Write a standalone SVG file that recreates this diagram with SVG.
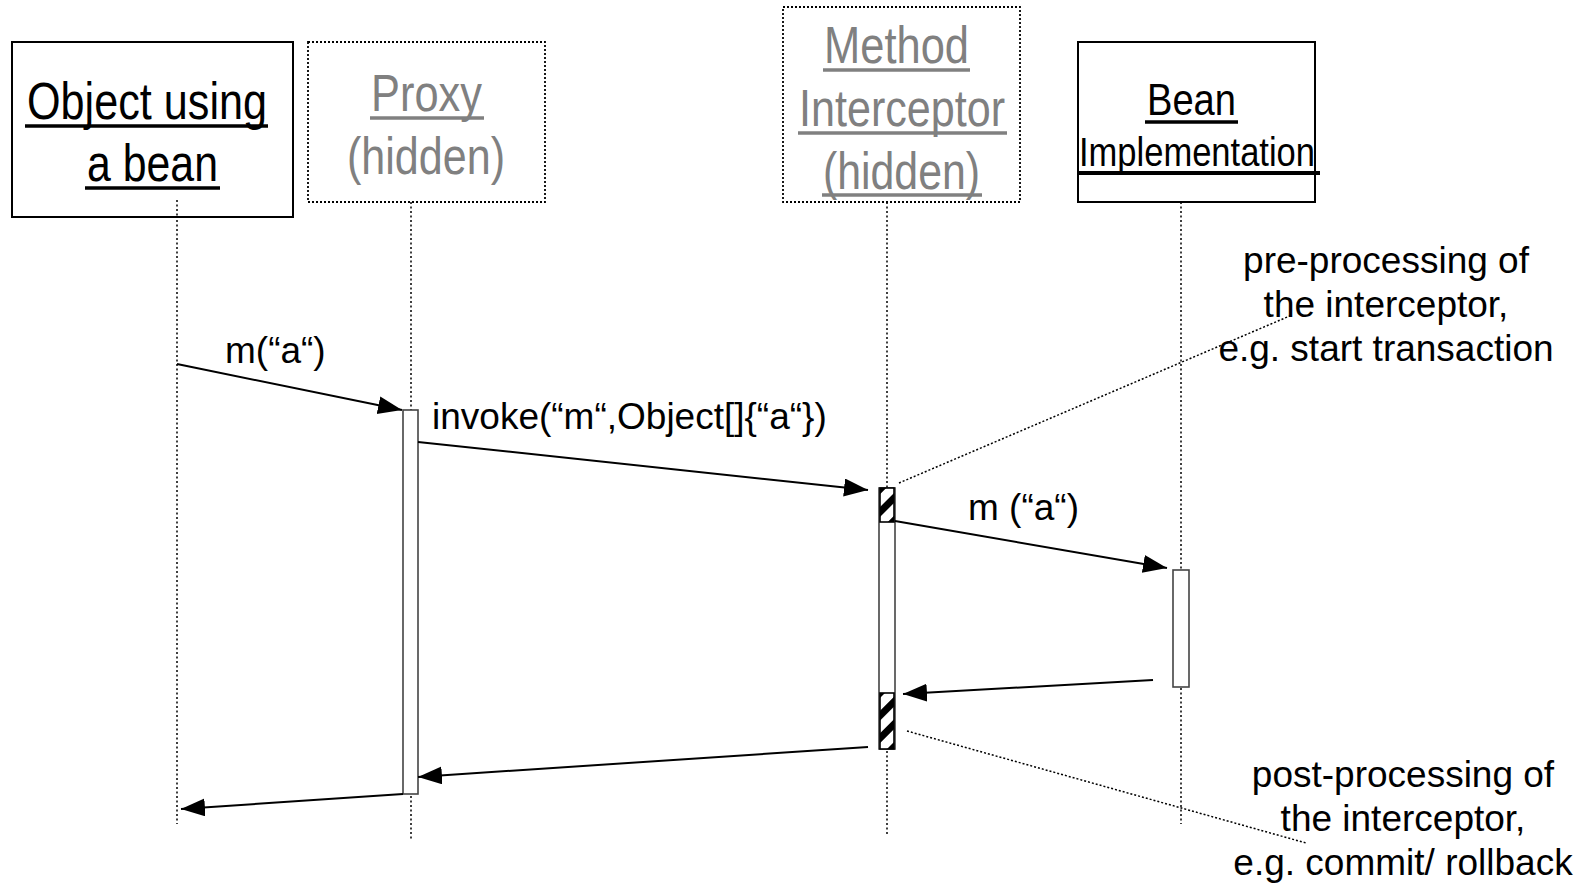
<svg xmlns="http://www.w3.org/2000/svg" width="1586" height="885" viewBox="0 0 1586 885">
  <defs>
    <style>
      .head { font-family: "Liberation Sans Narrow", "Liberation Sans", Arial, sans-serif; font-size: 52px; fill: #000; }
      .grey { fill: #808080; }
      .ul { stroke: #000; stroke-width: 3.5; }
      .ulg { stroke: #808080; stroke-width: 3.5; }
      .lbl { font-family: "Liberation Sans", Arial, sans-serif; font-size: 37px; fill: #000; }
      .box { fill: #fff; stroke: #000; stroke-width: 2; }
      .dotbox { fill: #fff; stroke: #000; stroke-width: 1.8; stroke-dasharray: 2 2; }
      .life { fill: none; stroke: #000; stroke-width: 1.5; stroke-dasharray: 2 2.5; }
      .act { fill: #fff; stroke: #444; stroke-width: 1.6; }
      .hatch { fill: url(#diag); stroke: #000; stroke-width: 1.6; }
      .msg { fill: none; stroke: #000; stroke-width: 2; marker-end: url(#arrow); }
      .note { fill: none; stroke: #000; stroke-width: 1.5; stroke-dasharray: 2 2; }
    </style>
    <marker id="arrow" markerUnits="userSpaceOnUse" markerWidth="26" markerHeight="20" refX="24" refY="9" orient="auto">
      <path d="M0,0 L24,9 L0,18 Z" fill="#000"/>
    </marker>
    <!-- diagonal stripes for the interceptor's own processing -->
    <pattern id="diag" patternUnits="userSpaceOnUse" width="16" height="16" patternTransform="translate(887,505) rotate(45) translate(-3.5,0)">
      <rect x="0" y="0" width="16" height="16" fill="#fff"/>
      <rect x="0" y="0" width="7" height="16" fill="#000"/>
    </pattern>
  </defs>

  <!-- lifelines -->
  <g id="lifelines">
    <line class="life" x1="177" y1="202" x2="177" y2="824"/>
    <line class="life" x1="411" y1="202" x2="411" y2="840"/>
    <line class="life" x1="887" y1="202" x2="887" y2="835"/>
    <line class="life" x1="1181" y1="202" x2="1181" y2="824"/>
  </g>

  <!-- participant: object using a bean -->
  <g id="object">
    <rect class="box" x="12" y="42" width="281" height="175"/>
    <line class="life" x1="177" y1="200" x2="177" y2="217"/>
    <text class="head" x="27" y="119" textLength="240" lengthAdjust="spacingAndGlyphs">Object using</text>
    <line class="ul" x1="25" y1="126" x2="268" y2="126"/>
    <text class="head" x="87" y="181" textLength="131" lengthAdjust="spacingAndGlyphs">a bean</text>
    <line class="ul" x1="85" y1="188" x2="220" y2="188"/>
  </g>

  <!-- participant: proxy -->
  <g id="proxy">
    <rect class="dotbox" x="308" y="42" width="237" height="160"/>
    <text class="head grey" x="371" y="111" textLength="111" lengthAdjust="spacingAndGlyphs">Proxy</text>
    <line class="ulg" x1="370" y1="118" x2="484" y2="118"/>
    <text class="head grey" x="347" y="174" textLength="158" lengthAdjust="spacingAndGlyphs">(hidden)</text>
  </g>

  <!-- participant: method interceptor -->
  <g id="interceptor">
    <rect class="dotbox" x="783" y="7" width="237" height="195"/>
    <text class="head grey" x="824" y="63" textLength="145" lengthAdjust="spacingAndGlyphs">Method</text>
    <line class="ulg" x1="823" y1="70" x2="970" y2="70"/>
    <text class="head grey" x="799" y="126" textLength="206" lengthAdjust="spacingAndGlyphs">Interceptor</text>
    <line class="ulg" x1="798" y1="133" x2="1007" y2="133"/>
    <text class="head grey" x="823" y="189" textLength="157" lengthAdjust="spacingAndGlyphs">(hidden)</text>
    <line class="ulg" x1="822" y1="195" x2="982" y2="195"/>
  </g>

  <!-- participant: bean implementation -->
  <g id="bean">
    <rect class="box" x="1078" y="42" width="237" height="160"/>
    <text class="head" style="font-size:44px" x="1147" y="115" textLength="89" lengthAdjust="spacingAndGlyphs">Bean</text>
    <line class="ul" x1="1145" y1="122" x2="1238" y2="122"/>
    <text class="head" style="font-size:40px" x="1079" y="166" textLength="236" lengthAdjust="spacingAndGlyphs">Implementation</text>
    <line class="ul" style="stroke-width:4" x1="1078" y1="173" x2="1320" y2="173"/>
  </g>

  <!-- activation bars -->
  <g id="activations">
    <rect class="act" x="403" y="410" width="15" height="384"/>
    <rect class="act" x="879" y="488" width="16" height="261"/>
    <rect class="hatch" x="880" y="488" width="14" height="34"/>
    <rect class="hatch" x="880" y="693" width="14" height="56"/>
    <rect class="act" x="1173" y="570" width="16" height="117"/>
  </g>

  <!-- messages -->
  <g id="connectors">
    <line class="msg" x1="177" y1="364" x2="402" y2="410"/>
    <line class="msg" x1="418" y1="442" x2="868" y2="490"/>
    <line class="msg" x1="895" y1="521" x2="1167" y2="568"/>
    <line class="msg" x1="1153" y1="680" x2="903" y2="694"/>
    <line class="msg" x1="868" y1="747" x2="418" y2="777"/>
    <line class="msg" x1="403" y1="794" x2="181" y2="809"/>
    <line class="note" x1="899" y1="483" x2="1292" y2="315"/>
    <line class="note" x1="907" y1="731" x2="1306" y2="843"/>
  </g>

  <!-- message labels -->
  <g id="labels">
    <text class="lbl" x="225" y="363">m(“a“)</text>
    <text class="lbl" x="432" y="429">invoke(“m“,Object[]{“a“})</text>
    <text class="lbl" x="968" y="520">m (“a“)</text>
  </g>

  <!-- notes -->
  <g id="note-pre">
    <text class="lbl" text-anchor="middle" x="1386" y="273">pre-processing of</text>
    <text class="lbl" text-anchor="middle" x="1386" y="317">the interceptor,</text>
    <text class="lbl" text-anchor="middle" x="1386" y="361">e.g. start transaction</text>
  </g>
  <g id="note-post">
    <text class="lbl" text-anchor="middle" x="1403" y="787">post-processing of</text>
    <text class="lbl" text-anchor="middle" x="1403" y="831">the interceptor,</text>
    <text class="lbl" text-anchor="middle" x="1403" y="875">e.g. commit/ rollback</text>
  </g>
</svg>
